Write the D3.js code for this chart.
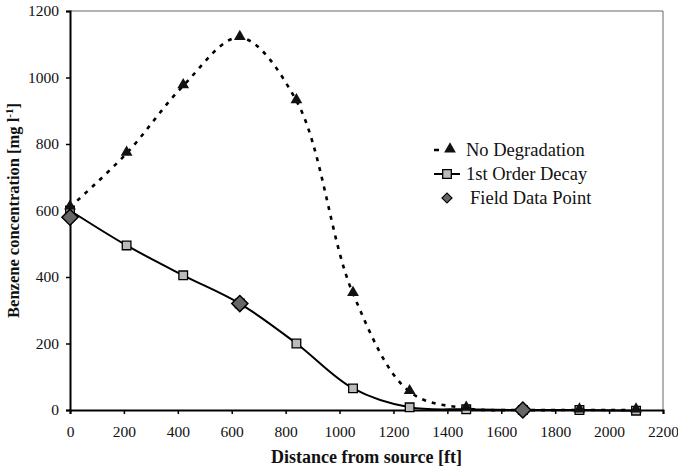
<!DOCTYPE html>
<html>
<head>
<meta charset="utf-8">
<script src="https://cdn.jsdelivr.net/npm/d3@7"></script>
<style>
  body { margin: 0; background: #fff; }
  svg text { font-family: "Liberation Serif", "DejaVu Serif", serif; fill: #111; }
</style>
</head>
<body>
<div id="chart"></div>
<script>
const distances = [0, 210, 420, 630, 840, 1050, 1260, 1470, 1680, 1890, 2100];
const noDegradation = [610, 772, 975, 1120, 930, 350, 55, 5, 0, 0, 0];
const firstOrder = [600, 495, 405, 320, 200, 65, 8, 2, 0, 0, -2];
const fieldX = [0, 630, 1680];
const fieldY = [580, 320, 0];
const xTicks = [0, 200, 400, 600, 800, 1000, 1200, 1400, 1600, 1800, 2000, 2200];
const yTicks = [0, 200, 400, 600, 800, 1000, 1200];

const W = 678, H = 470;
const margin = { top: 11, right: 15, bottom: 60, left: 70 };
const width = W - margin.left - margin.right,
      height = H - margin.top - margin.bottom;

const svg = d3.select("#chart").append("svg")
    .attr("width", W)
    .attr("height", H);

const g = svg.append("g")
    .attr("transform", `translate(${margin.left},${margin.top})`);

const x = d3.scaleLinear().domain([0, 2200]).range([0, width]);
const y = d3.scaleLinear().domain([0, 1200]).range([height, 0]);

// faint top/right frame
g.append("path")
    .attr("d", `M0,0H${width}V${height}`)
    .attr("fill", "none")
    .attr("stroke", "#666")
    .attr("stroke-width", 1);

const xAxis = g.append("g")
    .attr("transform", `translate(0,${height})`)
    .call(d3.axisBottom(x).tickValues(xTicks).tickSize(4).tickPadding(12).tickFormat(d3.format("d")));
const yAxis = g.append("g")
    .call(d3.axisLeft(y).tickValues(yTicks).tickSize(4).tickPadding(7).tickFormat(d3.format("d")));

[xAxis, yAxis].forEach(a => {
    a.select(".domain").attr("stroke", "#000").attr("stroke-width", 2);
    a.selectAll(".tick line").attr("stroke", "#000").attr("stroke-width", 1.5);
    a.selectAll(".tick text").style("font-size", "15.5px").attr("fill", "#111");
});

const noDeg = distances.map((d, i) => ({ x: d, y: noDegradation[i] }));
const decay = distances.map((d, i) => ({ x: d, y: firstOrder[i] }));
const field = fieldX.map((d, i) => ({ x: d, y: fieldY[i] }));

const line = d3.line()
    .x(d => x(d.x))
    .y(d => y(d.y))
    .curve(d3.curveCatmullRom.alpha(0.5));

g.append("path")
    .datum(noDeg)
    .attr("fill", "none")
    .attr("stroke", "#000")
    .attr("stroke-width", 2.6)
    .attr("stroke-dasharray", "4,6")
    .attr("d", line);

g.append("path")
    .datum(decay)
    .attr("fill", "none")
    .attr("stroke", "#000")
    .attr("stroke-width", 2)
    .attr("d", line);

const tri = d3.symbol().type(d3.symbolTriangle).size(60);
const sq = d3.symbol().type(d3.symbolSquare).size(75);
const dia = d3.symbol().type(d3.symbolSquare).size(130);

g.selectAll(".sq")
    .data(decay)
    .enter().append("path")
    .attr("class", "sq")
    .attr("transform", d => `translate(${x(d.x)},${y(d.y)})`)
    .attr("d", sq)
    .attr("fill", "#bbb")
    .attr("stroke", "#000")
    .attr("stroke-width", 1.3);

g.selectAll(".tri")
    .data(noDeg)
    .enter().append("path")
    .attr("class", "tri")
    .attr("transform", d => `translate(${x(d.x)},${y(d.y) - 1})`)
    .attr("d", tri)
    .attr("fill", "#111");

g.selectAll(".dia")
    .data(field)
    .enter().append("path")
    .attr("class", "dia")
    .attr("transform", d => `translate(${x(d.x)},${y(d.y)}) rotate(45)`)
    .attr("d", dia)
    .attr("fill", "#666")
    .attr("stroke", "#000")
    .attr("stroke-width", 1.5);

// legend
const legend = svg.append("g").attr("transform", "translate(434,150)");
const rowH = 24;
const items = ["No Degradation", "1st Order Decay", "Field Data Point"];
items.forEach((label, i) => {
    const row = legend.append("g").attr("transform", `translate(0,${i * rowH})`);
    if (i === 0) {
        row.append("line").attr("x1", 0).attr("x2", 26).attr("y1", 0).attr("y2", 0)
            .attr("stroke", "#000").attr("stroke-width", 2.6).attr("stroke-dasharray", "5,8");
        row.append("path").attr("transform", "translate(16,-1)").attr("d", tri).attr("fill", "#111");
    } else if (i === 1) {
        row.append("line").attr("x1", 0).attr("x2", 26).attr("y1", 0).attr("y2", 0)
            .attr("stroke", "#000").attr("stroke-width", 2);
        row.append("path").attr("transform", "translate(13,0)").attr("d", sq)
            .attr("fill", "#bbb").attr("stroke", "#000").attr("stroke-width", 1.3);
    } else {
        row.append("path").attr("transform", "translate(13,0) rotate(45)")
            .attr("d", d3.symbol().type(d3.symbolSquare).size(50))
            .attr("fill", "#666").attr("stroke", "#000").attr("stroke-width", 1.2);
    }
    row.append("text")
        .attr("x", i === 2 ? 36 : 32)
        .attr("y", 6)
        .style("font-size", "18.5px")
        .text(label);
});

// axis titles
svg.append("text")
    .attr("x", margin.left + width / 2)
    .attr("y", 463)
    .attr("text-anchor", "middle")
    .style("font-size", "18px")
    .style("font-weight", "bold")
    .text("Distance from source [ft]");

const yl = svg.append("text")
    .attr("transform", `translate(19,${margin.top + height / 2}) rotate(-90)`)
    .attr("text-anchor", "middle")
    .style("font-size", "16.5px")
    .style("font-weight", "bold");
yl.append("tspan").text("Benzene concentration [mg l");
yl.append("tspan").attr("dy", -6).style("font-size", "11px").text("-1");
yl.append("tspan").attr("dy", 6).text("]");
</script>
</body>
</html>
